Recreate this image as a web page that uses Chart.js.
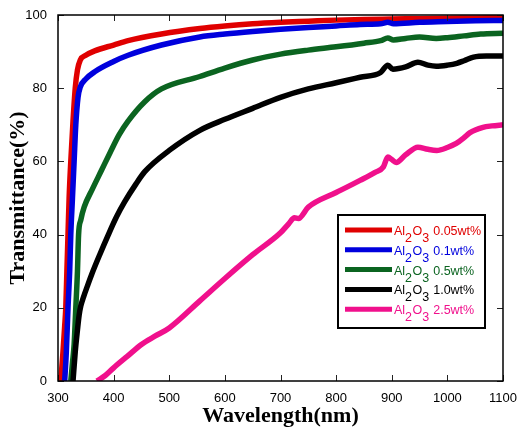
<!DOCTYPE html>
<html>
<head>
<meta charset="utf-8">
<script src="https://cdn.jsdelivr.net/npm/chart.js@4.4.0/dist/chart.umd.min.js"></script>
<style>
  html, body { margin: 0; padding: 0; background: #fff; }
</style>
</head>
<body>
<canvas id="transChart" width="517" height="430"></canvas>
<script>
// wavelength (nm) / transmittance (%)
const wl005 = [305, 309, 312, 314, 316, 318, 320, 323, 327, 331, 335, 340, 350, 366, 400, 426, 486, 555, 600, 650, 700, 750, 800, 850, 900, 950, 1000, 1050, 1100];
const t005  = [0, 8, 15, 20, 30, 40, 50, 60, 71, 80, 85, 87.7, 89, 90.2, 91.8, 93, 94.8, 96.3, 97, 97.6, 98, 98.3, 98.6, 98.8, 98.9, 99, 99.1, 99.2, 99.3];

const wl01 = [312, 315, 318, 321, 323, 326, 329, 332, 336, 340, 350, 366, 400, 426, 486, 555, 600, 650, 700, 750, 800, 843, 880, 893, 903, 950, 1000, 1050, 1100];
const t01  = [0, 8, 20, 30, 40, 50, 60, 70, 77.5, 80.3, 82.5, 84.5, 87.3, 89, 91.8, 94, 94.8, 95.5, 96.1, 96.6, 97, 97.4, 97.6, 98, 97.6, 98, 98.2, 98.4, 98.5];

const wl05 = [323, 326, 329, 332, 335, 337, 341, 347, 362, 378, 394, 410, 426, 456, 486, 555, 600, 650, 700, 750, 800, 850, 880, 893, 903, 925, 950, 980, 1000, 1030, 1060, 1100];
const t05  = [0, 5, 10, 20, 30, 40, 44, 47.5, 52.5, 57.5, 62.5, 67.3, 71, 76.3, 79.8, 83.2, 85.5, 87.7, 89.3, 90.4, 91.3, 92.3, 93, 93.7, 93.2, 93.6, 94, 93.6, 93.8, 94.3, 94.8, 95];

const wl10 = [327, 331, 335, 338, 341, 346, 353, 361, 375, 390, 405, 420, 440, 456, 500, 555, 600, 650, 700, 750, 800, 843, 880, 893, 902, 925, 947, 965, 980, 1000, 1017, 1030, 1047, 1070, 1100];
const t10  = [0, 8, 14, 18, 20.5, 23, 26, 29.3, 34.5, 39.8, 44.8, 49, 53.8, 57.2, 63, 68.5, 71.5, 74.5, 77.5, 79.8, 81.5, 83, 84.3, 86.3, 85.2, 85.8, 87.1, 86.3, 86, 86.3, 86.8, 87.5, 88.5, 88.8, 88.8];

const wl25 = [370, 385, 400, 425, 450, 475, 500, 555, 600, 650, 700, 715, 725, 732, 750, 800, 843, 870, 885, 893, 900, 908, 925, 947, 965, 981, 1000, 1016, 1030, 1040, 1064, 1080, 1100];
const t25  = [0, 1.5, 3.6, 6.8, 10, 12.3, 14.5, 21.9, 28, 34.5, 40.5, 43, 44.6, 44.4, 47.5, 51.5, 54.8, 57, 58.5, 61.2, 60.5, 59.7, 61.8, 63.9, 63.3, 63, 63.8, 64.9, 66.5, 67.8, 69.3, 69.7, 70];

const loadings = ["0.05wt%", "0.1wt%", "0.5wt%", "1.0wt%", "2.5wt%"];
const xTicks = [300, 400, 500, 600, 700, 800, 900, 1000, 1100];
const yTicks = [0, 20, 40, 60, 80, 100];

const colors = ["#e00000", "#0000dd", "#0b6420", "#000000", "#f0108c"];
const allWl = [wl005, wl01, wl05, wl10, wl25];
const allT = [t005, t01, t05, t10, t25];

const datasets = loadings.map((lab, i) => ({
  label: lab,
  data: allWl[i].map((w, j) => ({x: w, y: allT[i][j]})),
  borderColor: colors[i],
  borderWidth: 5.5,
  pointRadius: 0,
  fill: false,
  cubicInterpolationMode: 'monotone'
}));
// red on top like the original
datasets.reverse();

// ticks pointing into the plot on all four sides + frame
const innerTicks = {
  id: 'innerTicks',
  afterDatasetsDraw(chart) {
    const {ctx, chartArea: a, scales: {x, y}} = chart;
    ctx.save();
    ctx.strokeStyle = '#222';
    ctx.lineWidth = 1;
    ctx.beginPath();
    xTicks.forEach(v => {
      const px = Math.round(x.getPixelForValue(v)) + 0.5;
      ctx.moveTo(px, a.bottom); ctx.lineTo(px, a.bottom - 6);
      ctx.moveTo(px, a.top); ctx.lineTo(px, a.top + 6);
    });
    yTicks.forEach(v => {
      const py = Math.round(y.getPixelForValue(v)) + 0.5;
      ctx.moveTo(a.left, py); ctx.lineTo(a.left + 6, py);
      ctx.moveTo(a.right, py); ctx.lineTo(a.right - 6, py);
    });
    ctx.stroke();
    ctx.strokeStyle = '#000';
    ctx.lineWidth = 1.5;
    ctx.strokeRect(a.left, a.top, a.width, a.height);
    ctx.restore();
  }
};

// legend box with Al2O3 subscripts
const formulaLegend = {
  id: 'formulaLegend',
  afterDraw(chart) {
    const {ctx, chartArea: a} = chart;
    const bx = a.left + 280, by = a.top + 200, bw = 147, bh = 113;
    ctx.save();
    ctx.fillStyle = '#fff';
    ctx.fillRect(bx, by, bw, bh);
    ctx.strokeStyle = '#000';
    ctx.lineWidth = 2;
    ctx.strokeRect(bx, by, bw, bh);
    const font = '12.5px "Liberation Sans", Arial, sans-serif';
    loadings.forEach((lab, i) => {
      const ry = by + 15 + i * 19.8;
      ctx.strokeStyle = colors[i];
      ctx.lineWidth = 5;
      ctx.beginPath();
      ctx.moveTo(bx + 7, ry); ctx.lineTo(bx + 54, ry);
      ctx.stroke();
      ctx.fillStyle = colors[i];
      ctx.font = font;
      ctx.textBaseline = 'alphabetic';
      let tx = bx + 56;
      const base = ry + 5;
      const parts = [["Al", 0], ["2", 7], ["O", 0], ["3", 7], [" " + lab, 0]];
      parts.forEach(([s, dy]) => {
        ctx.fillText(s, tx, base + dy);
        tx += ctx.measureText(s).width + (dy ? 0.5 : 0);
      });
    });
    ctx.restore();
  }
};

new Chart(document.getElementById('transChart'), {
  type: 'line',
  data: { datasets: datasets },
  options: {
    responsive: false,
    animation: false,
    devicePixelRatio: 1,
    layout: { padding: { top: 15, right: 14, left: 0, bottom: 0 } },
    plugins: { legend: { display: false }, tooltip: { enabled: false } },
    scales: {
      x: {
        type: 'linear',
        min: 300, max: 1100,
        afterFit(scale) {
          scale.height = 49;
          scale.paddingLeft = 0;
          scale.paddingRight = 0;
        },
        afterBuildTicks(scale) { scale.ticks = xTicks.map(v => ({value: v})); },
        grid: { display: false, drawTicks: false },
        border: { display: false },
        ticks: {
          padding: 10, color: '#000', font: { family: '"Liberation Sans", Arial', size: 13 },
          callback: v => String(v)
        },
        title: {
          display: true, text: 'Wavelength(nm)', color: '#000',
          font: { family: '"Liberation Serif", "Times New Roman", serif', size: 22, weight: 'bold' },
          padding: { top: 0, bottom: 0 }
        }
      },
      y: {
        min: 0, max: 100,
        afterFit(scale) {
          scale.width = 58;
          scale.paddingTop = 0;
          scale.paddingBottom = 0;
        },
        afterBuildTicks(scale) { scale.ticks = yTicks.map(v => ({value: v})); },
        grid: { display: false, drawTicks: false },
        border: { display: false },
        ticks: {
          padding: 11, color: '#000', font: { family: '"Liberation Sans", Arial', size: 13 },
          callback: v => String(v)
        },
        title: {
          display: true, text: 'Transmittance(%)', color: '#000',
          font: { family: '"Liberation Serif", "Times New Roman", serif', size: 22, weight: 'bold' },
          padding: { top: 5, bottom: 0 }
        }
      }
    }
  },
  plugins: [innerTicks, formulaLegend]
});
</script>
</body>
</html>
